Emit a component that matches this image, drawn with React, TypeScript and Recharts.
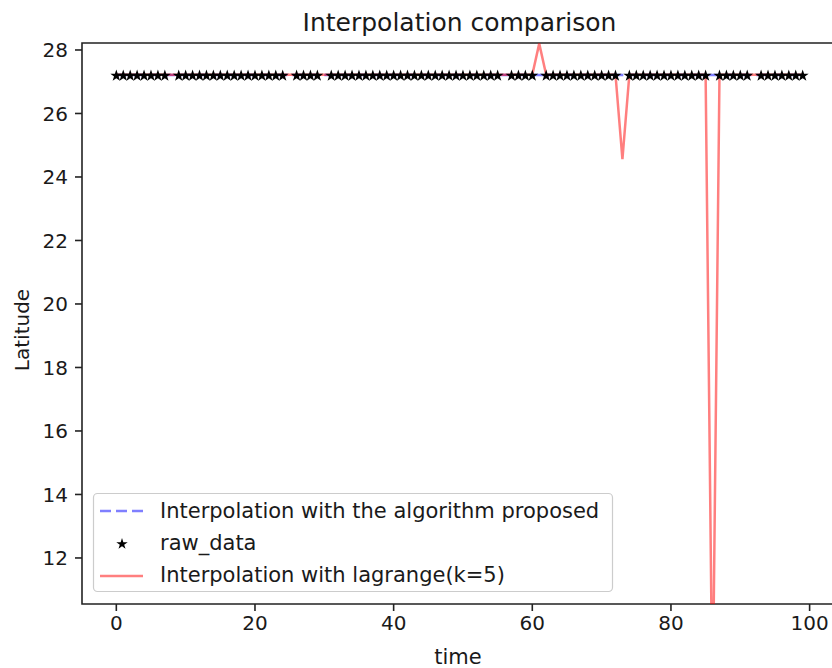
import { LineChart, Line, XAxis, YAxis, ReferenceArea } from "recharts";

// time index of each sample
const time = [
  0, 1, 2, 3, 4, 5, 6, 7, 8, 9,
  10, 11, 12, 13, 14, 15, 16, 17, 18, 19,
  20, 21, 22, 23, 24, 25, 26, 27, 28, 29,
  30, 31, 32, 33, 34, 35, 36, 37, 38, 39,
  40, 41, 42, 43, 44, 45, 46, 47, 48, 49,
  50, 51, 52, 53, 54, 55, 56, 57, 58, 59,
  60, 61, 62, 63, 64, 65, 66, 67, 68, 69,
  70, 71, 72, 73, 74, 75, 76, 77, 78, 79,
  80, 81, 82, 83, 84, 85, 86, 87, 88, 89,
  90, 91, 92, 93, 94, 95, 96, 97, 98, 99,
];

// raw samples (null = missing)
const rawLat = [
  27.22, 27.22, 27.22, 27.22, 27.22, 27.22, 27.22, 27.22, null, 27.22,
  27.22, 27.22, 27.22, 27.22, 27.22, 27.22, 27.22, 27.22, 27.22, 27.22,
  27.22, 27.22, 27.22, 27.22, 27.22, null, 27.22, 27.22, 27.22, 27.22,
  null, 27.22, 27.22, 27.22, 27.22, 27.22, 27.22, 27.22, 27.22, 27.22,
  27.22, 27.22, 27.22, 27.22, 27.22, 27.22, 27.22, 27.22, 27.22, 27.22,
  27.22, 27.22, 27.22, 27.22, 27.22, 27.22, null, 27.22, 27.22, 27.22,
  27.22, null, 27.22, 27.22, 27.22, 27.22, 27.22, 27.22, 27.22, 27.22,
  27.22, 27.22, 27.22, null, 27.22, 27.22, 27.22, 27.22, 27.22, 27.22,
  27.22, 27.22, 27.22, 27.22, 27.22, 27.22, null, 27.22, 27.22, 27.22,
  27.22, 27.22, null, 27.22, 27.22, 27.22, 27.22, 27.22, 27.22, 27.22,
];

const proposedLat = [
  27.21, 27.21, 27.21, 27.21, 27.21, 27.21, 27.21, 27.21, 27.21, 27.21,
  27.21, 27.21, 27.21, 27.21, 27.21, 27.21, 27.21, 27.21, 27.21, 27.21,
  27.21, 27.21, 27.21, 27.21, 27.21, 27.21, 27.21, 27.21, 27.21, 27.21,
  27.21, 27.21, 27.21, 27.21, 27.21, 27.21, 27.21, 27.21, 27.21, 27.21,
  27.21, 27.21, 27.21, 27.21, 27.21, 27.21, 27.21, 27.21, 27.21, 27.21,
  27.21, 27.21, 27.21, 27.21, 27.21, 27.21, 27.21, 27.21, 27.21, 27.21,
  27.21, 27.21, 27.21, 27.21, 27.21, 27.21, 27.21, 27.21, 27.21, 27.21,
  27.21, 27.21, 27.21, 27.21, 27.21, 27.21, 27.21, 27.21, 27.21, 27.21,
  27.21, 27.21, 27.21, 27.21, 27.21, 27.21, 27.21, 27.21, 27.21, 27.21,
  27.21, 27.21, 27.21, 27.21, 27.21, 27.21, 27.21, 27.21, 27.21, 27.21,
];

const lagrangeLat = [
  27.22, 27.22, 27.22, 27.22, 27.22, 27.22, 27.22, 27.22, 27.22, 27.22,
  27.22, 27.22, 27.22, 27.22, 27.22, 27.22, 27.22, 27.22, 27.22, 27.22,
  27.22, 27.22, 27.22, 27.22, 27.22, 27.22, 27.22, 27.22, 27.22, 27.22,
  27.22, 27.22, 27.22, 27.22, 27.22, 27.22, 27.22, 27.22, 27.22, 27.22,
  27.22, 27.22, 27.22, 27.22, 27.22, 27.22, 27.22, 27.22, 27.22, 27.22,
  27.22, 27.22, 27.22, 27.22, 27.22, 27.22, 27.22, 27.22, 27.22, 27.22,
  27.22, 28.2, 27.22, 27.22, 27.22, 27.22, 27.22, 27.22, 27.22, 27.22,
  27.22, 27.22, 27.22, 24.56, 27.22, 27.22, 27.22, 27.22, 27.22, 27.22,
  27.22, 27.22, 27.22, 27.22, 27.22, 27.22, 7.0, 27.22, 27.22, 27.22,
  27.22, 27.22, 27.22, 27.22, 27.22, 27.22, 27.22, 27.22, 27.22, 27.22,
];

const xTicks = [0, 20, 40, 60, 80, 100];
const yTicks = [12, 14, 16, 18, 20, 22, 24, 26, 28];
const xDomain = [-4.95, 103.95];
const yDomain = [10.55, 28.22];

const data = time.map((t, i) => ({
  t,
  raw: rawLat[i],
  proposed: proposedLat[i],
  lagrange: lagrangeLat[i],
}));

const BLUE = "#0000ff";
const RED = "#ff0000";
const INK = "#1a1a1a";

function starPoints(cx: number, cy: number, R: number) {
  const r = R * 0.382;
  const pts: string[] = [];
  for (let k = 0; k < 10; k++) {
    const a = ((-90 + k * 36) * Math.PI) / 180;
    const rad = k % 2 === 0 ? R : r;
    pts.push(`${cx + rad * Math.cos(a)},${cy + rad * Math.sin(a)}`);
  }
  return pts.join(" ");
}

function StarDot(p: any) {
  const key = `star-${p.index}`;
  if (p.value == null || p.cx == null || p.cy == null) return <g key={key} />;
  return <polygon key={key} points={starPoints(p.cx, p.cy + 1, 6.3)} fill="#000" />;
}

export default function App() {
  return (
    <div
      style={{
        position: "absolute",
        left: 0,
        top: 0,
        width: 832,
        height: 668,
        overflow: "hidden",
        background: "#fff",
        fontFamily: "'DejaVu Sans', sans-serif",
      }}
    >
      <LineChart
        width={840}
        height={668}
        data={data}
        margin={{ top: 43, right: 3, bottom: 0, left: 0 }}
      >
        <XAxis
          dataKey="t"
          type="number"
          domain={xDomain}
          ticks={xTicks}
          allowDataOverflow
          height={64}
          tickSize={7}
          tickMargin={5}
          tick={{ fontSize: 20, fill: INK }}
          tickLine={{ stroke: "#222", strokeWidth: 1.6 }}
          axisLine={false}
        />
        <YAxis
          type="number"
          domain={yDomain}
          ticks={yTicks}
          allowDataOverflow
          width={82}
          tickSize={7}
          tickMargin={7}
          tick={{ fontSize: 20, fill: INK }}
          tickLine={{ stroke: "#222", strokeWidth: 1.6 }}
          axisLine={false}
        />
        <Line
          dataKey="proposed"
          stroke={BLUE}
          strokeOpacity={0.5}
          strokeWidth={2.5}
          strokeDasharray="11 5"
          dot={false}
          activeDot={false}
          isAnimationActive={false}
        />
        <Line
          dataKey="raw"
          stroke="none"
          dot={(p: any) => StarDot(p)}
          activeDot={false}
          connectNulls={false}
          isAnimationActive={false}
        />
        <Line
          dataKey="lagrange"
          stroke={RED}
          strokeOpacity={0.5}
          strokeWidth={2.5}
          dot={false}
          activeDot={false}
          isAnimationActive={false}
        />
        <ReferenceArea
          x1={xDomain[0]}
          x2={xDomain[1]}
          y1={yDomain[0]}
          y2={yDomain[1]}
          fill="none"
          fillOpacity={0}
          stroke="#222"
          strokeWidth={1.6}
        />
      </LineChart>

      <svg
        width={832}
        height={668}
        style={{ position: "absolute", left: 0, top: 0, pointerEvents: "none" }}
      >
        <text x={459.5} y={31} textAnchor="middle" fontSize={25} fill={INK}>
          Interpolation comparison
        </text>
        <text x={458} y={664} textAnchor="middle" fontSize={21} fill={INK}>
          time
        </text>
        <text
          transform="translate(29,330) rotate(-90)"
          textAnchor="middle"
          fontSize={20}
          fill={INK}
        >
          Latitude
        </text>

        <rect
          x={93.5}
          y={493.5}
          width={519}
          height={98}
          rx={4}
          fill="#fff"
          fillOpacity={0.8}
          stroke="#cccccc"
          strokeWidth={1.2}
        />
        <line x1={100} x2={143} y1={511} y2={511} stroke={BLUE} strokeOpacity={0.5} strokeWidth={2.5} strokeDasharray="11 5" />
        <text x={160} y={518} fontSize={21} fill={INK}>
          Interpolation with the algorithm proposed
        </text>
        <polygon points={starPoints(122, 544, 6)} fill="#000" />
        <text x={160} y={550} fontSize={21} fill={INK}>
          raw_data
        </text>
        <line x1={100} x2={143} y1={576} y2={576} stroke={RED} strokeOpacity={0.5} strokeWidth={2.5} />
        <text x={160} y={582} fontSize={21} fill={INK}>
          Interpolation with lagrange(k=5)
        </text>
      </svg>
    </div>
  );
}
